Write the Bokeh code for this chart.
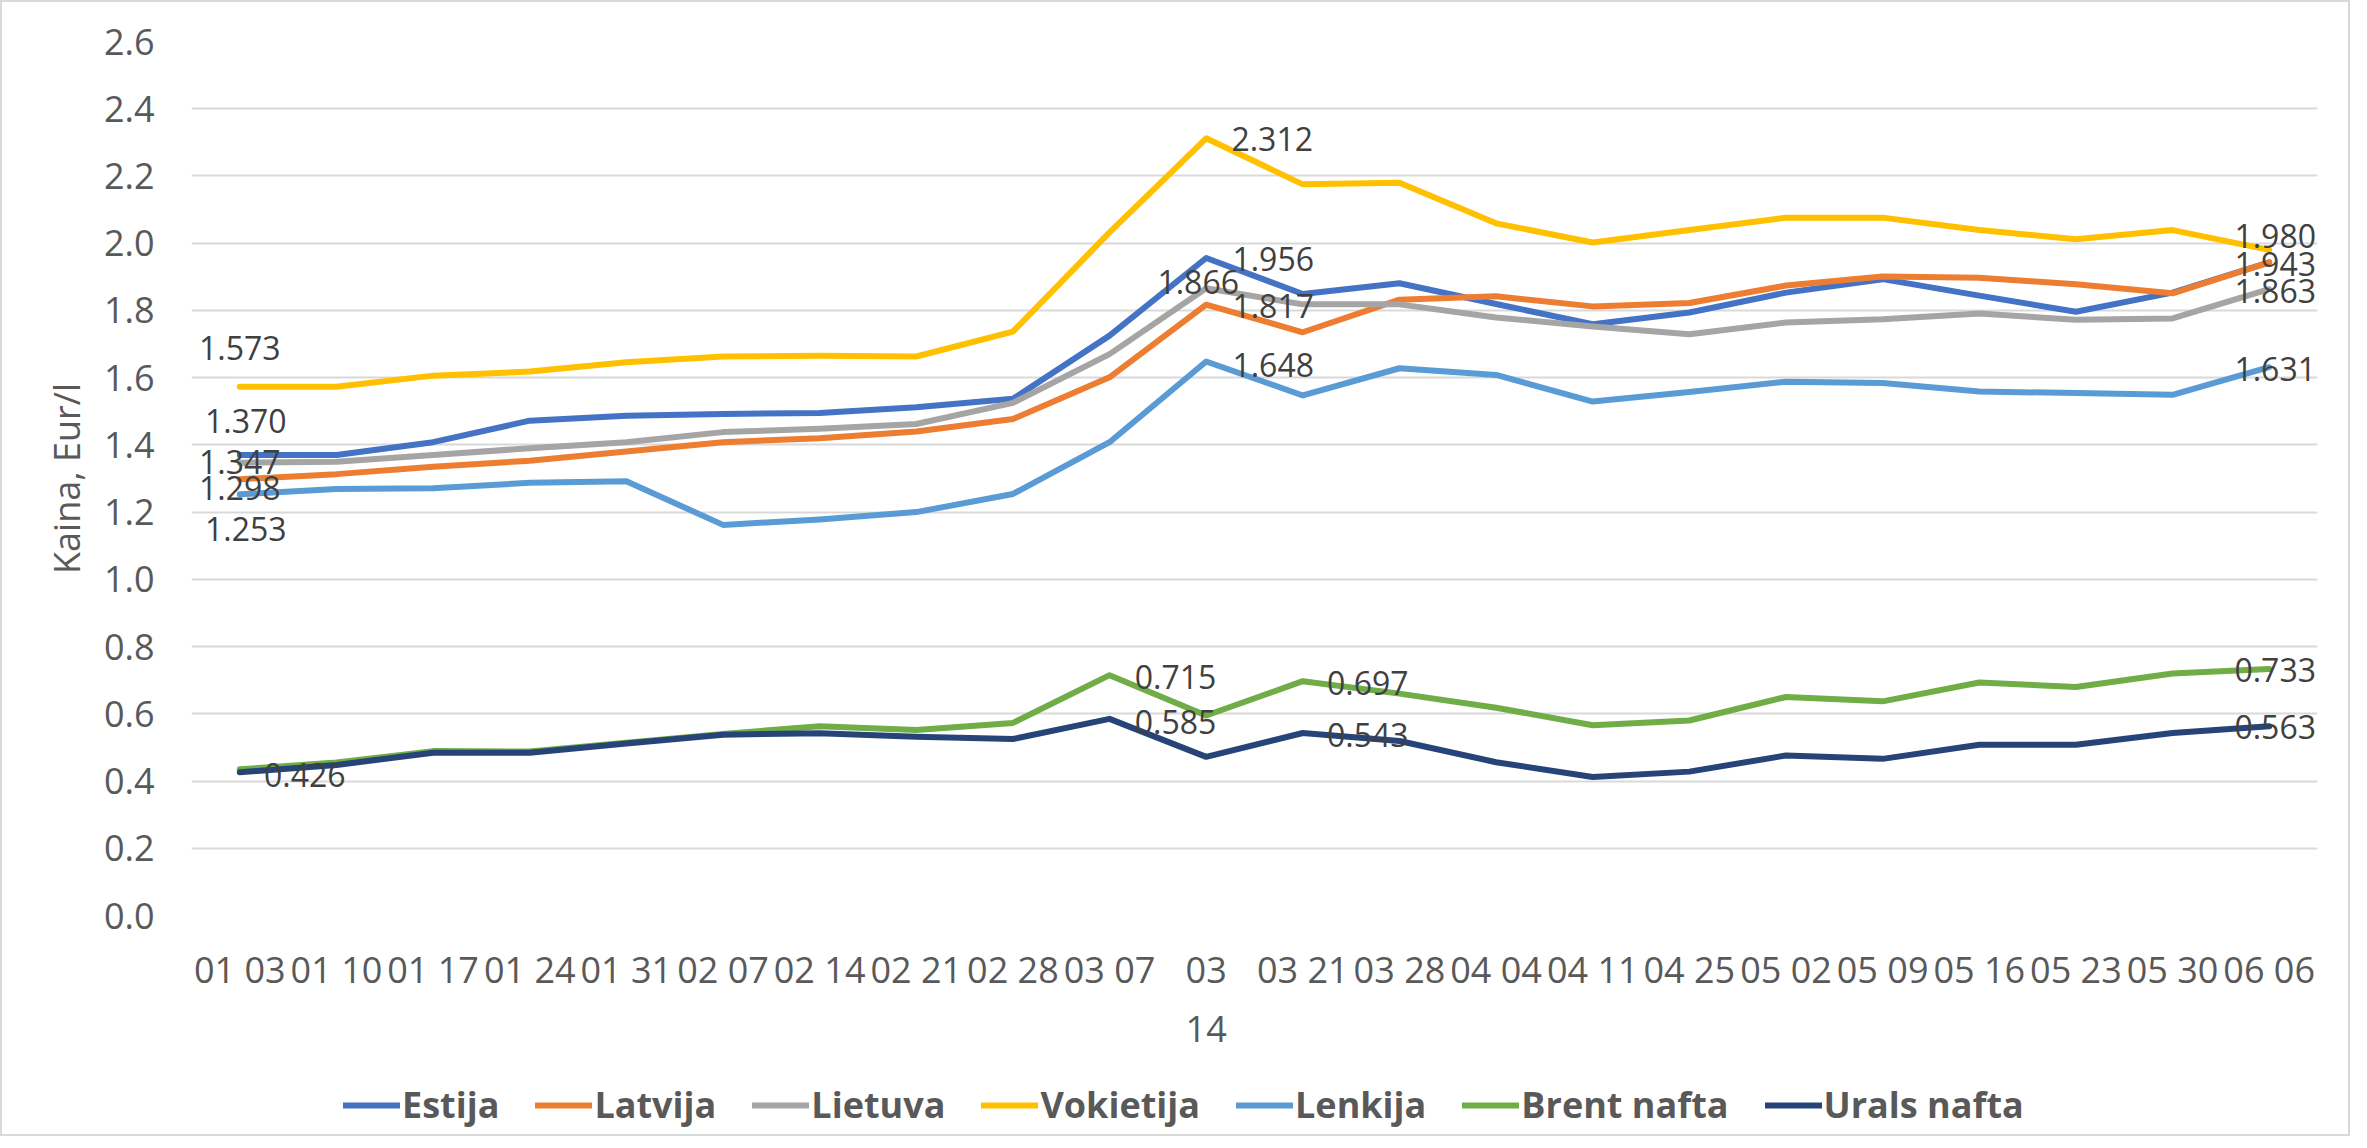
from bokeh.plotting import figure
from bokeh.layouts import column
from bokeh.models import (ColumnDataSource, Range1d, Legend, LegendItem,
                          FixedTicker, NumeralTickFormatter, LabelSet, LinearAxis)
from bokeh.core.properties import value
from bokeh.embed import file_html
from bokeh.resources import INLINE

# ---- data ----
dates = ["01 03", "01 10", "01 17", "01 24", "01 31", "02 07", "02 14", "02 21", "02 28",
         "03 07", "03 14", "03 21", "03 28", "04 04", "04 11", "04 25", "05 02", "05 09",
         "05 16", "05 23", "05 30", "06 06"]

estija = [1.370, 1.370, 1.408, 1.472, 1.487, 1.492, 1.495, 1.512, 1.537, 1.725, 1.956,
          1.849, 1.881, 1.819, 1.759, 1.794, 1.853, 1.893, 1.844, 1.796, 1.853, 1.943]
latvija = [1.298, 1.313, 1.335, 1.353, 1.380, 1.408, 1.420, 1.440, 1.477, 1.601, 1.817,
           1.735, 1.832, 1.842, 1.812, 1.822, 1.874, 1.901, 1.897, 1.878, 1.851, 1.943]
lietuva = [1.347, 1.350, 1.370, 1.390, 1.408, 1.438, 1.448, 1.462, 1.525, 1.670, 1.866,
           1.818, 1.818, 1.779, 1.752, 1.729, 1.764, 1.774, 1.791, 1.772, 1.776, 1.863]
vokietija = [1.573, 1.573, 1.606, 1.618, 1.646, 1.663, 1.665, 1.663, 1.737, 2.032, 2.312,
             2.175, 2.180, 2.059, 2.002, 2.039, 2.076, 2.076, 2.039, 2.012, 2.039, 1.980]
lenkija = [1.253, 1.269, 1.271, 1.287, 1.292, 1.162, 1.178, 1.200, 1.254, 1.408, 1.648,
           1.547, 1.628, 1.608, 1.529, 1.557, 1.588, 1.584, 1.559, 1.554, 1.549, 1.631]
brent = [0.435, 0.455, 0.489, 0.488, 0.514, 0.540, 0.563, 0.552, 0.573, 0.715, 0.595,
         0.697, 0.660, 0.618, 0.566, 0.580, 0.650, 0.637, 0.693, 0.680, 0.720, 0.733]
urals = [0.426, 0.448, 0.484, 0.484, 0.512, 0.538, 0.542, 0.532, 0.525, 0.585, 0.472,
         0.543, 0.519, 0.456, 0.412, 0.428, 0.476, 0.466, 0.508, 0.508, 0.543, 0.563]

series_names = ["Estija", "Latvija", "Lietuva", "Vokietija", "Lenkija", "Brent nafta", "Urals nafta"]
series_values = [estija, latvija, lietuva, vokietija, lenkija, brent, urals]
series_colors = ["#4472C4", "#ED7D31", "#A5A5A5", "#FFC000", "#5B9BD5", "#70AD47", "#264478"]

y_ticks = [0.0, 0.2, 0.4, 0.6, 0.8, 1.0, 1.2, 1.4, 1.6, 1.8, 2.0, 2.2, 2.4, 2.6]

# tick label of "03 14" wraps onto two lines in the original
wrapped_date = "03 14"

# data labels: (series, point index, pixel offset right, pixel offset down)
label_spec = [
    ("Vokietija", 0, 0, -39), ("Estija", 0, 6, -34), ("Lietuva", 0, 0, -1),
    ("Latvija", 0, 0, 9), ("Lenkija", 0, 6, 35), ("Urals nafta", 0, 65, 3),
    ("Vokietija", 10, 66, 1), ("Estija", 10, 67, 1), ("Lietuva", 10, -8, -6),
    ("Latvija", 10, 67, 1), ("Lenkija", 10, 67, 3),
    ("Brent nafta", 9, 66, 2), ("Urals nafta", 9, 66, 3),
    ("Brent nafta", 11, 65, 2), ("Urals nafta", 11, 65, 2),
    ("Vokietija", 21, 6, -14), ("Latvija", 21, 6, 2), ("Lietuva", 21, 6, 2),
    ("Lenkija", 21, 6, 2), ("Brent nafta", 21, 6, 1), ("Urals nafta", 21, 6, 1),
]

xpos = list(range(len(dates)))
wi = dates.index(wrapped_date)

# ---- main figure ----
p = figure(x_range=Range1d(-0.5, len(dates) - 0.5), y_range=Range1d(0, 2.6),
           width=2346, height=1055, output_backend="svg", toolbar_location=None,
           min_border_left=189, min_border_right=31, min_border_top=39, min_border_bottom=142)
p.outline_line_color = None
p.background_fill_color = "white"

p.xgrid.grid_line_color = None
p.ygrid.grid_line_color = "#d9d9d9"
p.ygrid.grid_line_width = 2

p.yaxis.ticker = FixedTicker(ticks=y_ticks)
p.yaxis.formatter = NumeralTickFormatter(format="0.0")

p.xaxis.ticker = FixedTicker(ticks=xpos)
overrides = {i: d for i, d in zip(xpos, dates)}
overrides[wi] = wrapped_date.split(" ")[0]
p.xaxis.major_label_overrides = overrides

# second axis carrying the wrapped second line of one tick label
x2 = LinearAxis(ticker=FixedTicker(ticks=[wi]),
                major_label_overrides={wi: wrapped_date.split(" ")[1]})
p.add_layout(x2, "below")

for ax in (p.xaxis[0], x2, p.yaxis[0]):
    ax.axis_line_color = None
    ax.major_tick_line_color = None
    ax.minor_tick_line_color = None
    ax.major_tick_out = 0
    ax.major_tick_in = 0
    ax.minor_tick_out = 0
    ax.minor_tick_in = 0
    ax.major_label_text_font = "Open Sans"
    ax.major_label_text_font_size = "36px"
    ax.major_label_text_color = "#595959"
    ax.major_label_orientation = "horizontal"

p.yaxis.major_label_standoff = 37
p.yaxis.axis_label = "Kaina, Eur/l"
p.yaxis.axis_label_text_font = "Open Sans"
p.yaxis.axis_label_text_font_size = "36px"
p.yaxis.axis_label_text_font_style = "normal"
p.yaxis.axis_label_text_color = "#595959"
p.yaxis.axis_label_standoff = 10

p.xaxis[0].major_label_standoff = 29
x2.major_label_standoff = 19

for name, vals, col in zip(series_names, series_values, series_colors):
    p.line(x=xpos, y=vals, line_color=col, line_width=6,
           line_cap="round", line_join="round")

lx, ly, lt, ldx, ldy = [], [], [], [], []
for name, idx, dx, dy in label_spec:
    vals = series_values[series_names.index(name)]
    lx.append(xpos[idx]); ly.append(vals[idx]); lt.append(f"{vals[idx]:.3f}")
    ldx.append(dx); ldy.append(-dy)
lsrc = ColumnDataSource(dict(x=lx, y=ly, text=lt, dx=ldx, dy=ldy))
labels = LabelSet(x="x", y="y", text="text", x_offset="dx", y_offset="dy", source=lsrc,
                  text_font=value("Open Sans"), text_font_size="32px", text_color="#404040",
                  text_align="center", text_baseline="middle")
p.add_layout(labels)

# ---- legend strip (same series, drawn out of view, only the legend shows) ----
pl = figure(x_range=Range1d(100, 101), y_range=Range1d(100, 101),
            width=2346, height=77, output_backend="svg", toolbar_location=None,
            x_axis_location=None, y_axis_location=None, min_border=0)
pl.grid.visible = False
pl.outline_line_color = None
items = []
for name, vals, col in zip(series_names, series_values, series_colors):
    r = pl.line(x=xpos, y=vals, line_color=col, line_width=6,
                line_cap="round", line_join="round")
    items.append(LegendItem(label=name, renderers=[r]))

legend = Legend(items=items, orientation="horizontal", location=(152, 5))
legend.label_text_font = "Open Sans"
legend.label_text_font_style = "bold"
legend.label_text_font_size = "36px"
legend.label_text_color = "#595959"
legend.glyph_width = 57
legend.glyph_height = 36
legend.label_standoff = 2
legend.spacing = 36
legend.padding = 0
legend.margin = 0
legend.border_line_color = None
legend.background_fill_alpha = 0
pl.add_layout(legend, "center")

layout = column(p, pl, spacing=0)
layout.styles = {"border": "2px solid #d9d9d9"}

open("out.html", "w").write(file_html(layout, INLINE))
